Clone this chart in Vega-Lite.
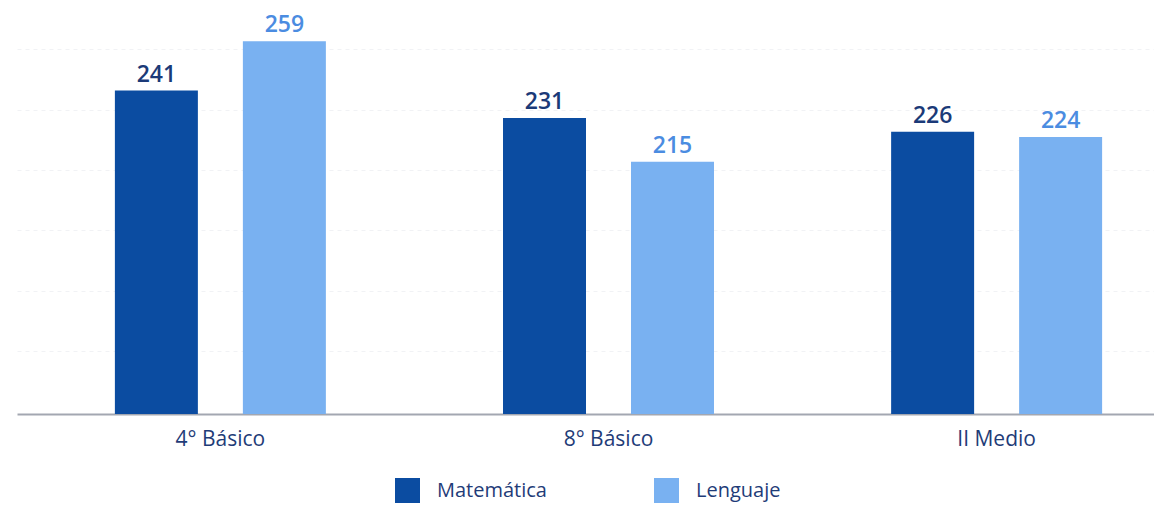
{
  "$schema": "https://vega.github.io/schema/vega-lite/v6.json",
  "autosize": "none",
  "padding": {"left": 17, "top": 11, "right": 0, "bottom": 91},
  "width": 1183,
  "height": 403,
  "background": "#ffffff",
  "config": {
    "view": {"stroke": null},
    "font": "Open Sans"
  },
  "data": {
    "values": [
      {"nivel": "4° Básico", "asignatura": "Matemática", "puntaje": 241},
      {"nivel": "4° Básico", "asignatura": "Lenguaje", "puntaje": 259},
      {"nivel": "8° Básico", "asignatura": "Matemática", "puntaje": 231},
      {"nivel": "8° Básico", "asignatura": "Lenguaje", "puntaje": 215},
      {"nivel": "II Medio", "asignatura": "Matemática", "puntaje": 226},
      {"nivel": "II Medio", "asignatura": "Lenguaje", "puntaje": 224}
    ]
  },
  "encoding": {
    "x": {
      "field": "nivel",
      "type": "nominal",
      "sort": ["4° Básico", "8° Básico", "II Medio"],
      "scale": {"paddingInner": 0, "paddingOuter": 0.024},
      "axis": {
        "title": null,
        "labelAngle": 0,
        "labelFontSize": 21,
        "labelColor": "#1f3c78",
        "labelPadding": 14,
        "ticks": false,
        "domainColor": "#a3a7b1",
        "domainWidth": 2,
        "labelFont": "Open Sans"
      }
    },
    "xOffset": {
      "field": "asignatura",
      "type": "nominal",
      "sort": ["Matemática", "Lenguaje"],
      "scale": {"paddingInner": 0.3516, "paddingOuter": 0.692}
    },
    "y": {
      "field": "puntaje",
      "type": "quantitative",
      "scale": {"domain": [123, 270], "zero": false, "nice": false},
      "axis": {
        "title": null,
        "labels": false,
        "ticks": false,
        "domain": false,
        "values": [146, 168, 190, 212, 234, 256],
        "gridColor": "#f1f2f5",
        "gridDash": [4, 4],
        "gridWidth": 1
      }
    }
  },
  "layer": [
    {
      "mark": {"type": "bar", "clip": true},
      "encoding": {
        "color": {
          "field": "asignatura",
          "type": "nominal",
          "sort": ["Matemática", "Lenguaje"],
          "scale": {"domain": ["Matemática", "Lenguaje"], "range": ["#0b4ca1", "#79b1f1"]},
          "legend": {
            "title": null,
            "orient": "none",
            "legendX": 378,
            "legendY": 467,
            "direction": "horizontal",
            "symbolType": "square",
            "symbolSize": 625,
            "symbolStrokeWidth": 0,
            "symbolOpacity": 1,
            "labelFontSize": 20,
            "labelColor": "#1f3c78",
            "labelOffset": 17,
            "columnPadding": 107,
            "padding": 0,
            "labelFont": "Open Sans"
          }
        }
      }
    },
    {
      "mark": {"type": "text", "baseline": "alphabetic", "dy": -9, "fontSize": 23, "fontWeight": 600},
      "encoding": {
        "text": {"field": "puntaje", "type": "quantitative"},
        "color": {
          "field": "asignatura",
          "type": "nominal",
          "scale": {"domain": ["Matemática", "Lenguaje"], "range": ["#1b3a78", "#4b8ce1"]},
          "legend": null
        }
      }
    }
  ],
  "resolve": {"scale": {"color": "independent"}}
}
